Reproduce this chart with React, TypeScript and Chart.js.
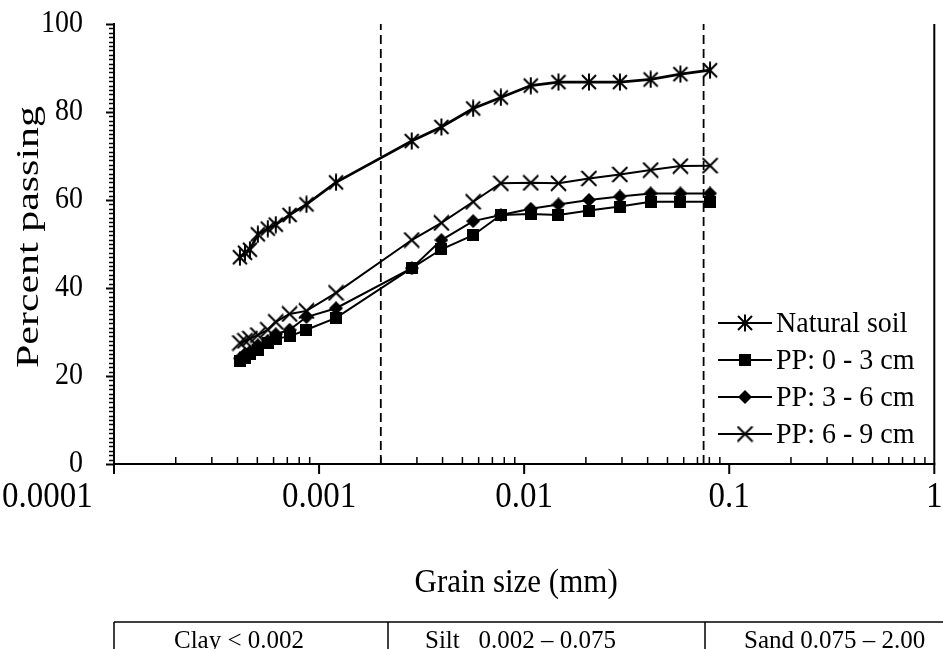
import React, { useEffect, useRef } from 'react';
import { Chart, registerables } from 'chart.js';

Chart.register(...registerables);

// Grain diameters (mm) of the hydrometer / sieve readings
const grainSizes = [
  0.000411, 0.000435, 0.00046, 0.000503, 0.000562, 0.000615, 0.000718, 0.000868,
  0.00121, 0.00283, 0.00395, 0.00564, 0.0077, 0.01077, 0.0147, 0.0207, 0.0293,
  0.0414, 0.0578, 0.0806,
];

// Percent passing for each sample
const naturalSoil = [
  47, 48, 48.7, 52.2, 53.5, 54.4, 56.6, 59, 64, 73.4, 76.6, 80.8, 83.3, 86, 86.8,
  86.8, 86.8, 87.4, 88.6, 89.5,
];
const pp0to3 = [
  23.5, 24, 25, 26, 27.5, 28.5, 29, 30.5, 33.2, 44.5, 48.8, 52, 56.6, 56.8, 56.6,
  57.6, 58.5, 59.6, 59.6, 59.6,
];
const pp3to6 = [
  24, 25, 25.5, 27, 28, 29.5, 30.5, 33.4, 35.4, 44.5, 50.9, 55.2, 56.6, 58, 59,
  60, 60.8, 61.5, 61.5, 61.5,
];
const pp6to9 = [
  27.5, 28, 28.5, 29.3, 30.5, 32.3, 34.1, 34.8, 38.9, 50.9, 54.8, 59.6, 63.8,
  63.9, 63.8, 64.9, 65.8, 66.8, 67.7, 67.8,
];

const seriesNames = ['Natural soil', 'PP: 0 - 3 cm', 'PP: 3 - 6 cm', 'PP: 6 - 9 cm'];

const xTickValues = [0.0001, 0.001, 0.01, 0.1, 1];
const xTickLabels = ['0.0001', '0.001', '0.01', '0.1', '1'];
const yTickValues = [0, 20, 40, 60, 80, 100];

// Clay / silt and silt / sand limits (mm)
const soilLimits = [0.002, 0.075];
const soilBands = ['Clay < 0.002', 'Silt   0.002 \u2013 0.075', 'Sand 0.075 \u2013 2.00'];

const FONT = "'Liberation Serif', 'Times New Roman', serif";

type MarkerKind = 'asterisk' | 'square' | 'diamond' | 'cross';

function makeMarker(kind: MarkerKind): HTMLCanvasElement {
  const c = document.createElement('canvas');
  const size = kind === 'square' ? 12 : kind === 'diamond' ? 14 : kind === 'asterisk' ? 18 : 17;
  c.width = size;
  c.height = size;
  const g = c.getContext('2d')!;
  g.strokeStyle = '#000';
  g.fillStyle = '#000';
  g.lineWidth = 2;
  g.beginPath();
  if (kind === 'square') {
    g.fillRect(0, 0, size, size);
  } else if (kind === 'diamond') {
    g.moveTo(size / 2, 0);
    g.lineTo(size, size / 2);
    g.lineTo(size / 2, size);
    g.lineTo(0, size / 2);
    g.closePath();
    g.fill();
  } else if (kind === 'asterisk') {
    g.moveTo(2, 2);
    g.lineTo(size - 2, size - 2);
    g.moveTo(size - 2, 2);
    g.lineTo(2, size - 2);
    g.moveTo(size / 2, 0.5);
    g.lineTo(size / 2, size - 0.5);
    g.stroke();
  } else {
    g.moveTo(1, 1);
    g.lineTo(size - 1, size - 1);
    g.moveTo(size - 1, 1);
    g.lineTo(1, size - 1);
    g.stroke();
  }
  return c;
}

export default function App() {
  const canvasRef = useRef<HTMLCanvasElement | null>(null);

  useEffect(() => {
    const canvas = canvasRef.current;
    if (!canvas) return;

    const markers = {
      asterisk: makeMarker('asterisk'),
      square: makeMarker('square'),
      diamond: makeMarker('diamond'),
      cross: makeMarker('cross'),
    };
    const markerList = [markers.asterisk, markers.square, markers.diamond, markers.cross];
    const seriesValues = [naturalSoil, pp0to3, pp3to6, pp6to9];
    const lineWidths = [2.7, 2, 2, 2];
    const drawOrder = [4, 1, 2, 3];

    const toPoints = (vals: number[]) => vals.map((v, i) => ({ x: grainSizes[i], y: v }));

    const datasets: any[] = seriesValues.map((vals, i) => ({
      label: seriesNames[i],
      data: toPoints(vals),
      borderColor: '#000',
      backgroundColor: '#000',
      borderWidth: lineWidths[i],
      pointStyle: markerList[i],
      pointRadius: 6,
      tension: 0,
      order: drawOrder[i],
    }));

    soilLimits.forEach((lim) => {
      datasets.push({
        label: '',
        data: [
          { x: lim, y: 0 },
          { x: lim, y: 100 },
        ],
        borderColor: '#000',
        borderWidth: 1.8,
        borderDash: [9, 5],
        pointRadius: 0,
        order: 10,
      });
    });

    // text squeezed or stretched along its run to a given length
    const fitText = (ctx: any, text: string, x: number, y: number, runLength: number) => {
      const w = ctx.measureText(text).width;
      ctx.save();
      ctx.translate(x, y);
      ctx.scale(runLength / w, 1);
      ctx.fillText(text, 0, 0);
      ctx.restore();
    };

    // horizontal text drawn slightly taller than wide
    const tallText = (ctx: any, text: string, x: number, y: number, stretch: number) => {
      ctx.save();
      ctx.translate(x, y);
      ctx.scale(1, stretch);
      ctx.fillText(text, 0, 0);
      ctx.restore();
    };

    const decor = {
      id: 'decor',
      afterDraw(chart: any) {
        const { ctx, chartArea: ca, scales } = chart;
        const xs = scales.x;
        const ys = scales.y;
        const line = (x1: number, y1: number, x2: number, y2: number) => {
          ctx.beginPath();
          ctx.moveTo(x1, y1);
          ctx.lineTo(x2, y2);
          ctx.stroke();
        };
        ctx.save();
        ctx.strokeStyle = '#000';
        ctx.fillStyle = '#000';

        // frame
        ctx.lineWidth = 2;
        line(ca.left, ca.top - 1, ca.left, ca.bottom + 1);
        line(ca.left - 1, ca.bottom, ca.right + 1, ca.bottom);
        line(ca.right, ca.top, ca.right, ca.bottom);

        // y ticks: major every 20, minor every 1
        for (let v = 0; v <= 100; v++) {
          const y = Math.round(ys.getPixelForValue(v)) + 0.5;
          const major = v % 20 === 0;
          ctx.lineWidth = major ? 2 : 1.5;
          line(ca.left - (major ? 8 : 5), y, ca.left, y);
        }

        // x ticks: decades outward, intermediate ones inward
        for (let e = -4; e <= 0; e++) {
          const base = Math.pow(10, e);
          const xp = xs.getPixelForValue(base);
          ctx.lineWidth = 2;
          line(xp, ca.bottom, xp, ca.bottom + 10);
          if (e < 0) {
            for (let m = 2; m <= 9; m++) {
              const xm = xs.getPixelForValue(base * m);
              ctx.lineWidth = 1.5;
              line(xm, ca.bottom, xm, ca.bottom - 7);
            }
          }
        }

        // tick labels
        ctx.font = `28px ${FONT}`;
        ctx.textBaseline = 'middle';
        ctx.textAlign = 'right';
        yTickValues.forEach((v) => tallText(ctx, String(v), 83, ys.getPixelForValue(v), 1.12));
        ctx.font = `33px ${FONT}`;
        ctx.textAlign = 'left';
        xTickValues.forEach((v, i) => {
          const w = ctx.measureText(xTickLabels[i]).width;
          let left = xs.getPixelForValue(v) - w / 2;
          if (i === 0) left = 2;
          left = Math.max(1, Math.min(943 - w, left));
          tallText(ctx, xTickLabels[i], left, 497, 1.1);
        });

        // axis titles
        ctx.textAlign = 'center';
        ctx.font = `31px ${FONT}`;
        tallText(ctx, 'Grain size (mm)', (ca.left + ca.right) / 2 - 8, 583, 1.08);
        ctx.save();
        ctx.translate(30, 237);
        ctx.rotate(-Math.PI / 2);
        ctx.font = `32px ${FONT}`;
        fitText(ctx, 'Percent passing', 0, 0, 262);
        ctx.restore();

        // legend
        ctx.font = `28px ${FONT}`;
        ctx.textAlign = 'left';
        const rowY = [323, 360, 397, 434];
        seriesNames.forEach((name, i) => {
          ctx.lineWidth = 2;
          line(718, rowY[i], 772, rowY[i]);
          const m = markerList[i];
          ctx.drawImage(m, 745 - m.width / 2, rowY[i] - m.height / 2);
          tallText(ctx, name, 776, rowY[i] + 1, 1.08);
        });

        // soil classification strip
        ctx.lineWidth = 1.5;
        const tTop = 622;
        const divX = [ca.left, 388, 705];
        line(ca.left, tTop, 943, tTop);
        divX.forEach((x) => line(x, tTop, x, 649));
        ctx.font = `25px ${FONT}`;
        ctx.textAlign = 'left';
        ctx.textBaseline = 'alphabetic';
        const cellTextX = [174, 425, 744];
        soilBands.forEach((t, i) => ctx.fillText(t, cellTextX[i], 648));

        ctx.restore();
      },
    };

    const chart = new Chart(canvas, {
      type: 'line',
      data: { datasets },
      options: {
        animation: false,
        responsive: false,
        maintainAspectRatio: false,
        layout: { padding: { top: 24, right: 5, left: 0, bottom: 0 } },
        plugins: {
          legend: { display: false },
          tooltip: { enabled: false },
        },
        scales: {
          x: {
            type: 'logarithmic',
            min: 0.0001,
            max: 1,
            grid: { display: false },
            border: { display: false },
            ticks: { display: false },
            afterFit: (scale: any) => {
              scale.height = 185;
            },
          },
          y: {
            min: 0,
            max: 100,
            grid: { display: false },
            border: { display: false },
            ticks: { display: false, stepSize: 20 },
            afterFit: (scale: any) => {
              scale.width = 114;
            },
          },
        },
      },
      plugins: [decor],
    });

    return () => chart.destroy();
  }, []);

  return (
    <div style={{ position: 'absolute', left: 0, top: 0, width: 943, height: 649, background: '#fff' }}>
      <canvas ref={canvasRef} width={943} height={649} style={{ display: 'block' }} />
    </div>
  );
}
